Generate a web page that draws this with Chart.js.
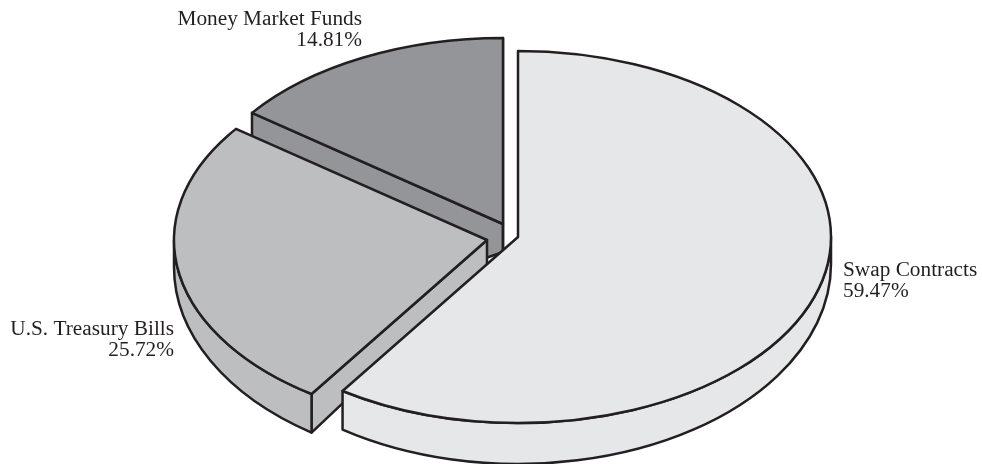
<!DOCTYPE html>
<html>
<head>
<meta charset="utf-8">
<style>
  html, body { margin: 0; padding: 0; background: #fff; }
  #wrap { width: 982px; height: 464px; }
</style>
</head>
<body>
<div id="wrap"><canvas id="pie"></canvas></div>
<script src="https://cdn.jsdelivr.net/npm/chart.js@4"></script>
<script>
// Chart data
const categories = ['Swap Contracts', 'U.S. Treasury Bills', 'Money Market Funds'];
const shares = [59.47, 25.72, 14.81];

// Slice styling and layout
const sliceColors = ['#e6e7e8', '#bcbec0', '#939598'];
const sliceCentres = [[518, 237], [487, 240], [503, 224]];
const centreDepths = [27, 27, 28];       // wall height at each slice's point
const farFaceDrops = [null, null, 227];  // money market's cut face runs on behind the treasury slice
const labelSpots = [
    { x: 843, y: 276, align: 'left' },
    { x: 174, y: 335, align: 'right' },
    { x: 362, y: 25, align: 'right' }
];
const INK = '#231f20';
const RADIUS = 313;
const SQUASH = 186 / 313;   // tilt of the pie
const DEPTH_GROW = 1.075;   // walls get taller towards the viewer

function drawWalls(ctx, i, cx, cy, r, a0, a1) {
    ctx.fillStyle = sliceColors[i];
    const ry = r * SQUASH;
    const depth = centreDepths[i];

    // flat cut faces, only the ones turned towards the viewer
    [[a0, Math.cos(a0) < -1e-6], [a1, Math.cos(a1) > -1e-6]].forEach(([a, visible]) => {
        if (!visible) return;
        const rimX = cx + r * Math.cos(a);
        const rimY = cy + ry * Math.sin(a);
        const lowY = farFaceDrops[i] !== null
            ? rimY + farFaceDrops[i]
            : cy + depth + ry * DEPTH_GROW * Math.sin(a);
        ctx.beginPath();
        ctx.moveTo(cx, cy);
        ctx.lineTo(rimX, rimY);
        ctx.lineTo(rimX, lowY);
        ctx.lineTo(cx, cy + depth);
        ctx.closePath();
        ctx.fill();
        ctx.stroke();
    });

    // curved outer wall
    const lo = Math.max(a0, 0);
    const hi = Math.min(a1, Math.PI);
    if (lo < hi) {
        ctx.beginPath();
        ctx.ellipse(cx, cy, r, ry, 0, lo, hi);
        ctx.ellipse(cx, cy + depth, r, ry * DEPTH_GROW, 0, hi, lo, true);
        ctx.closePath();
        ctx.fill();
        ctx.stroke();
    }
}

const tiltedPie = {
    id: 'tiltedPie',
    beforeDatasetsDraw(chart) {
        const ctx = chart.ctx;
        const arcs = chart.getDatasetMeta(0).data;

        // back to front: money market, treasury, swap
        [2, 1, 0].forEach(i => {
            const arc = arcs[i];
            const p = arc.getProps(['x', 'y', 'startAngle', 'endAngle', 'outerRadius'], true);
            const [cx, cy] = sliceCentres[i];

            ctx.save();
            ctx.strokeStyle = INK;
            ctx.lineWidth = 2.5;
            ctx.lineJoin = 'round';
            drawWalls(ctx, i, cx, cy, p.outerRadius, p.startAngle, p.endAngle);

            // top face, the library's own arc squashed in y
            ctx.save();
            ctx.translate(cx, cy);
            ctx.scale(1, SQUASH);
            ctx.translate(-p.x, -p.y);
            arc.draw(ctx);
            ctx.restore();

            ctx.beginPath();
            ctx.moveTo(cx, cy);
            ctx.ellipse(cx, cy, p.outerRadius, p.outerRadius * SQUASH, 0, p.startAngle, p.endAngle);
            ctx.closePath();
            ctx.stroke();
            ctx.restore();
        });
        return false;
    },
    afterDraw(chart) {
        const ctx = chart.ctx;
        ctx.save();
        ctx.fillStyle = INK;
        ctx.font = '21.3px "Liberation Serif"';
        categories.forEach((name, i) => {
            const spot = labelSpots[i];
            ctx.textAlign = spot.align;
            ctx.fillText(name, spot.x, spot.y);
            ctx.fillText(shares[i].toFixed(2) + '%', spot.x, spot.y + 21);
        });
        ctx.restore();
    }
};

new Chart(document.getElementById('pie'), {
    type: 'pie',
    data: {
        labels: categories,
        datasets: [{
            data: shares,
            backgroundColor: sliceColors,
            borderWidth: 0,
            radius: RADIUS
        }]
    },
    options: {
        responsive: true,
        maintainAspectRatio: false,
        animation: false,
        plugins: {
            legend: { display: false },
            tooltip: { enabled: false }
        }
    },
    plugins: [tiltedPie]
});
</script>
</body>
</html>
